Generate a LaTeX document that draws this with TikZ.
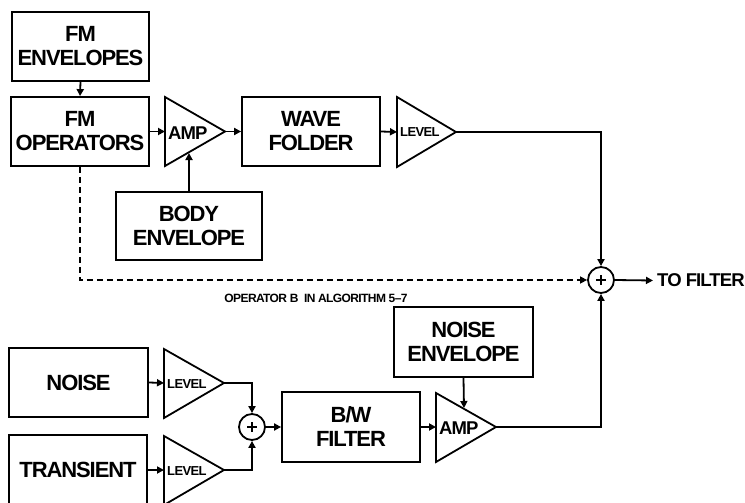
\documentclass[tikz,border=0pt]{standalone}
\usepackage{fontspec}
\setmainfont{Liberation Sans}[LetterSpace=-5]
\usetikzlibrary{arrows.meta}
\begin{document}
\begin{tikzpicture}[x=1pt,y=-1pt,
  box/.style={draw,line width=1.8pt,inner sep=0pt,font=\fontsize{22}{24}\selectfont\bfseries,align=center},
  tri/.style={draw,line width=1.8pt,line join=miter},
  small/.style={font=\fontsize{13}{14}\selectfont\bfseries,inner sep=0pt,anchor=west},
  ampt/.style={font=\fontsize{18.5}{20}\selectfont\bfseries,inner sep=0pt,anchor=west},
  sumc/.style={draw,circle,line width=1.8pt,minimum size=26pt,inner sep=0pt},
  plus/.style={line width=2.4pt},
  ar/.style={line width=1.8pt,-{Triangle[length=7pt,width=7pt]}},
  ln/.style={line width=1.8pt}]
\useasboundingbox (0,0) rectangle (745,503);
% top row
\node[box,minimum width=137pt,minimum height=69pt] (fmenv) at (80.5,46.5) {FM\\ENVELOPES};
\node[box,minimum width=138pt,minimum height=69pt] (fmop) at (80,131.5) {FM\\OPERATORS};
\draw[tri] (165,97) coordinate (amp1in) -- (165,166) -- (225,131.5) coordinate (amp1out) -- cycle;
\node[ampt] (amp1) at (168,133) {AMP};
\coordinate (amp1l) at (165,131.5);
\coordinate (amp1b) at (189,153);
\node[box,minimum width=138pt,minimum height=69pt] (wave) at (311,131.5) {WAVE\\FOLDER};
\draw[tri] (397,97) -- (397,167) -- (456,132) coordinate (lev1out) -- cycle;
\coordinate (lev1l) at (397,132);
\node[small] (lev1) at (400,132.5) {LEVEL};
\node[box,minimum width=146pt,minimum height=68pt] (body) at (189,226) {BODY\\ENVELOPE};
\node[sumc] (sum1) at (601,280) {};
\draw[plus] (sum1.center) ++(-5,0) -- ++(10,0) (sum1.center) ++(0,-5) -- ++(0,10);
\node[font=\fontsize{18.5}{20}\selectfont\bfseries,anchor=west,inner sep=0pt] (tofilter) at (657,280.5) {TO FILTER};
\node[font=\fontsize{12}{14}\selectfont\bfseries,inner sep=0pt] (oplabel) at (316,298) {OPERATOR B\ \ IN ALGORITHM 5–7};
% top connectors
\draw[ar] (fmenv.south) -- (fmop.north);
\draw[ar] (fmop.east) -- (amp1l);
\draw[ar] (amp1out) -- (wave.west);
\draw[ar] (body.north) -- (amp1b);
\draw[ar] (wave.east) -- (lev1l);
\draw[ar] (lev1out) -| (sum1.north);
\draw[ar,line width=1.5pt,dash pattern=on 6pt off 4pt] (fmop.south) |- (sum1.west);
\draw[ar] (sum1.east) -- ([xshift=-4pt]tofilter.west);
% bottom
\node[box,minimum width=139pt,minimum height=69pt] (noise) at (78.5,382.5) {NOISE};
\node[box,minimum width=138pt,minimum height=70pt] (trans) at (78,470) {TRANSIENT};
\draw[tri] (164,349) -- (164,418) -- (224,383) coordinate (lev2out) -- cycle;
\coordinate (lev2l) at (164,383);
\node[small] (lev2) at (167,384) {LEVEL};
\draw[tri] (164,436) -- (164,505) -- (224,470) coordinate (lev3out) -- cycle;
\coordinate (lev3l) at (164,470);
\node[small] (lev3) at (167,471) {LEVEL};
\node[sumc] (sum2) at (252,427) {};
\draw[plus] (sum2.center) ++(-5,0) -- ++(10,0) (sum2.center) ++(0,-5) -- ++(0,10);
\node[box,minimum width=138pt,minimum height=70pt] (bw) at (351,427) {B/W\\FILTER};
\draw[tri] (436,393) -- (436,462) -- (496,427) coordinate (amp2out) -- cycle;
\coordinate (amp2l) at (436,427);
\coordinate (amp2t) at (464,408);
\node[ampt] (amp2) at (439,428) {AMP};
\node[box,minimum width=139pt,minimum height=70pt] (nenv) at (463.5,342) {NOISE\\ENVELOPE};
\draw[ar] (noise.east) -- (lev2l);
\draw[ar] (trans.east |- lev3l) -- (lev3l);
\draw[ar] (lev2out) -| (sum2.north);
\draw[ar] (lev3out) -| (sum2.south);
\draw[ar] (sum2.east) -- (bw.west);
\draw[ar] (bw.east) -- (amp2l);
\draw[ar] (nenv.south) -- (amp2t);
\draw[ar] (amp2out) -| (sum1.south);
\end{tikzpicture}
\end{document}
